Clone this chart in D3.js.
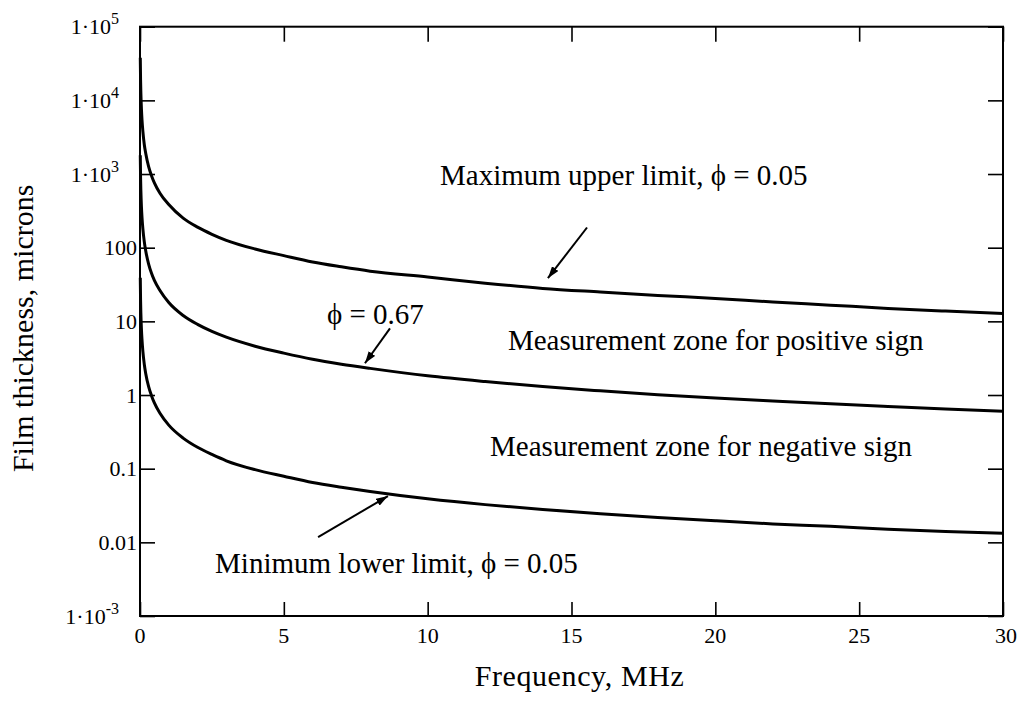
<!DOCTYPE html>
<html>
<head>
<meta charset="utf-8">
<script src="https://cdn.jsdelivr.net/npm/d3@7"></script>
<style>
  html, body { margin: 0; padding: 0; background: #fff; }
  svg { display: block; }
  text { font-family: "Liberation Serif", "Times New Roman", serif; fill: #000; }
</style>
</head>
<body>
<svg id="chart" width="1026" height="708"></svg>
<script>
// ---- data ----
const freq = [0.01, 0.02, 0.03, 0.05, 0.07, 0.1, 0.15, 0.2, 0.3, 0.4, 0.5, 0.7, 1, 1.5, 2, 2.5, 3, 4, 5, 6, 7, 8, 10, 12, 14, 16, 18, 20, 22, 24, 26, 28, 30];
const upperLimit = [38000, 19000, 12700, 7600, 5400, 3800, 2500, 1900, 1260, 950, 760, 545, 385, 252, 190, 152, 126, 96, 78, 64, 55, 48, 40, 33, 28, 25, 22.5, 20.5, 18.3, 16.6, 15, 13.8, 12.8];
const phi067 = [1800, 900, 600, 360, 257, 180, 120, 90, 60, 45, 36, 26, 18, 12, 9.1, 7.3, 6.1, 4.6, 3.7, 3.05, 2.62, 2.3, 1.82, 1.52, 1.3, 1.14, 1.01, 0.91, 0.83, 0.76, 0.7, 0.645, 0.60];
const lowerLimit = [39, 19.5, 13, 7.8, 5.6, 3.9, 2.6, 1.95, 1.3, 0.98, 0.78, 0.56, 0.39, 0.26, 0.195, 0.156, 0.128, 0.097, 0.079, 0.065, 0.056, 0.049, 0.039, 0.0325, 0.028, 0.0245, 0.0218, 0.0196, 0.0178, 0.0165, 0.0151, 0.014, 0.0133];

const xTicks = [0, 5, 10, 15, 20, 25, 30];
const xTickLabels = ["0", "5", "10", "15", "20", "25", "30"];
const yTicks = [1e-3, 0.01, 0.1, 1, 10, 100, 1e3, 1e4, 1e5];
const yTickLabels = ["1·10^-3", "0.01", "0.1", "1", "10", "100", "1·10^3", "1·10^4", "1·10^5"];

const xTitle = "Frequency, MHz";
const yTitle = "Film thickness, microns";

// annotation texts and anchor points in data units [freq, thickness]
const noteTexts = ["Maximum upper limit, ϕ = 0.05", "ϕ = 0.67", "Measurement zone for positive sign", "Measurement zone for negative sign", "Minimum lower limit, ϕ = 0.05"];
const notePos = [[10.43, 700], [6.5, 9.1], [12.79, 4.05], [12.17, 0.148], [2.61, 0.00383]];
const arrowFrom = [[15.54, 188], [8.69, 8.04], [6.19, 0.0118]];
const arrowTo = [[14.18, 38.6], [7.82, 2.7], [8.62, 0.0424]];

// ---- layout ----
const svg = d3.select("#chart");
const pL = 140, pR = 1003, pT = 26.7, pB = 616;

const x = d3.scaleLinear().domain([0, 30]).range([pL, pR]);
const y = d3.scaleLog().domain([1e-3, 1e5]).range([pB, pT]);

// frame
svg.append("rect")
  .attr("x", pL).attr("y", pT)
  .attr("width", pR - pL).attr("height", pB - pT)
  .attr("fill", "none").attr("stroke", "#000").attr("stroke-width", 2);

// axes (ticks pointing inward)
const axL = d3.axisRight(y).tickValues(yTicks).tickSize(15).tickFormat("");
const axR = d3.axisLeft(y).tickValues(yTicks).tickSize(15).tickFormat("");
const axB = d3.axisTop(x).tickValues(xTicks).tickSize(14).tickFormat("");
const axT = d3.axisBottom(x).tickValues(xTicks).tickSize(15).tickFormat("");

function styleAxis(g) {
  g.select(".domain").remove();
  g.selectAll(".tick line").attr("stroke", "#000").attr("stroke-width", 1.6);
}
svg.append("g").attr("transform", `translate(${pL},0)`).call(axL).call(styleAxis);
svg.append("g").attr("transform", `translate(${pR},0)`).call(axR).call(styleAxis);
svg.append("g").attr("transform", `translate(0,${pB})`).call(axB).call(styleAxis);
svg.append("g").attr("transform", `translate(0,${pT})`).call(axT).call(styleAxis);

// y tick labels
yTicks.forEach((v, i) => {
  const lab = yTickLabels[i];
  const t = svg.append("text")
    .attr("y", y(v) + 7.5)
    .attr("text-anchor", "end")
    .style("font-size", "22px");
  if (lab.includes("^")) {
    const [base, exp] = lab.split("^");
    t.attr("x", 119);
    t.append("tspan").text(base);
    t.append("tspan").attr("dy", -10).style("font-size", "16px").text(exp);
  } else {
    t.attr("x", 137).text(lab);
  }
});

// x tick labels
xTicks.forEach((v, i) => {
  svg.append("text")
    .attr("x", x(v) + (i === xTicks.length - 1 ? 3 : 0))
    .attr("y", 643)
    .attr("text-anchor", "middle")
    .style("font-size", "22px")
    .text(xTickLabels[i]);
});

// axis titles
svg.append("text")
  .attr("x", (pL + pR) / 2 + 8)
  .attr("y", 686)
  .attr("text-anchor", "middle")
  .style("font-size", "30px")
  .style("letter-spacing", "0.6px")
  .text(xTitle);

svg.append("text")
  .attr("transform", `translate(33,${(pT + pB) / 2 + 7}) rotate(-90)`)
  .attr("text-anchor", "middle")
  .style("font-size", "30px")
  .text(yTitle);

// curves
const line = d3.line()
  .x(d => x(d[0]))
  .y(d => y(d[1]))
  .curve(d3.curveMonotoneX);

[upperLimit, phi067, lowerLimit].forEach(series => {
  svg.append("path")
    .datum(freq.map((f, i) => [f, series[i]]))
    .attr("d", line)
    .attr("fill", "none")
    .attr("stroke", "#000")
    .attr("stroke-width", 3)
    .attr("stroke-linejoin", "round");
});

// arrow marker
svg.append("defs").append("marker")
  .attr("id", "arrowhead")
  .attr("viewBox", "0 0 12 8")
  .attr("refX", 12).attr("refY", 4)
  .attr("markerWidth", 12).attr("markerHeight", 8)
  .attr("markerUnits", "userSpaceOnUse")
  .attr("orient", "auto")
  .append("path")
  .attr("d", "M0,0 L12,4 L0,8 Z")
  .attr("fill", "#000");

arrowFrom.forEach((p, i) => {
  const q = arrowTo[i];
  svg.append("line")
    .attr("x1", x(p[0])).attr("y1", y(p[1]))
    .attr("x2", x(q[0])).attr("y2", y(q[1]))
    .attr("stroke", "#000").attr("stroke-width", 2)
    .attr("marker-end", "url(#arrowhead)");
});

// annotation texts
noteTexts.forEach((s, i) => {
  svg.append("text")
    .attr("x", x(notePos[i][0]))
    .attr("y", y(notePos[i][1]))
    .style("font-size", "29px")
    .text(s);
});
</script>
</body>
</html>
